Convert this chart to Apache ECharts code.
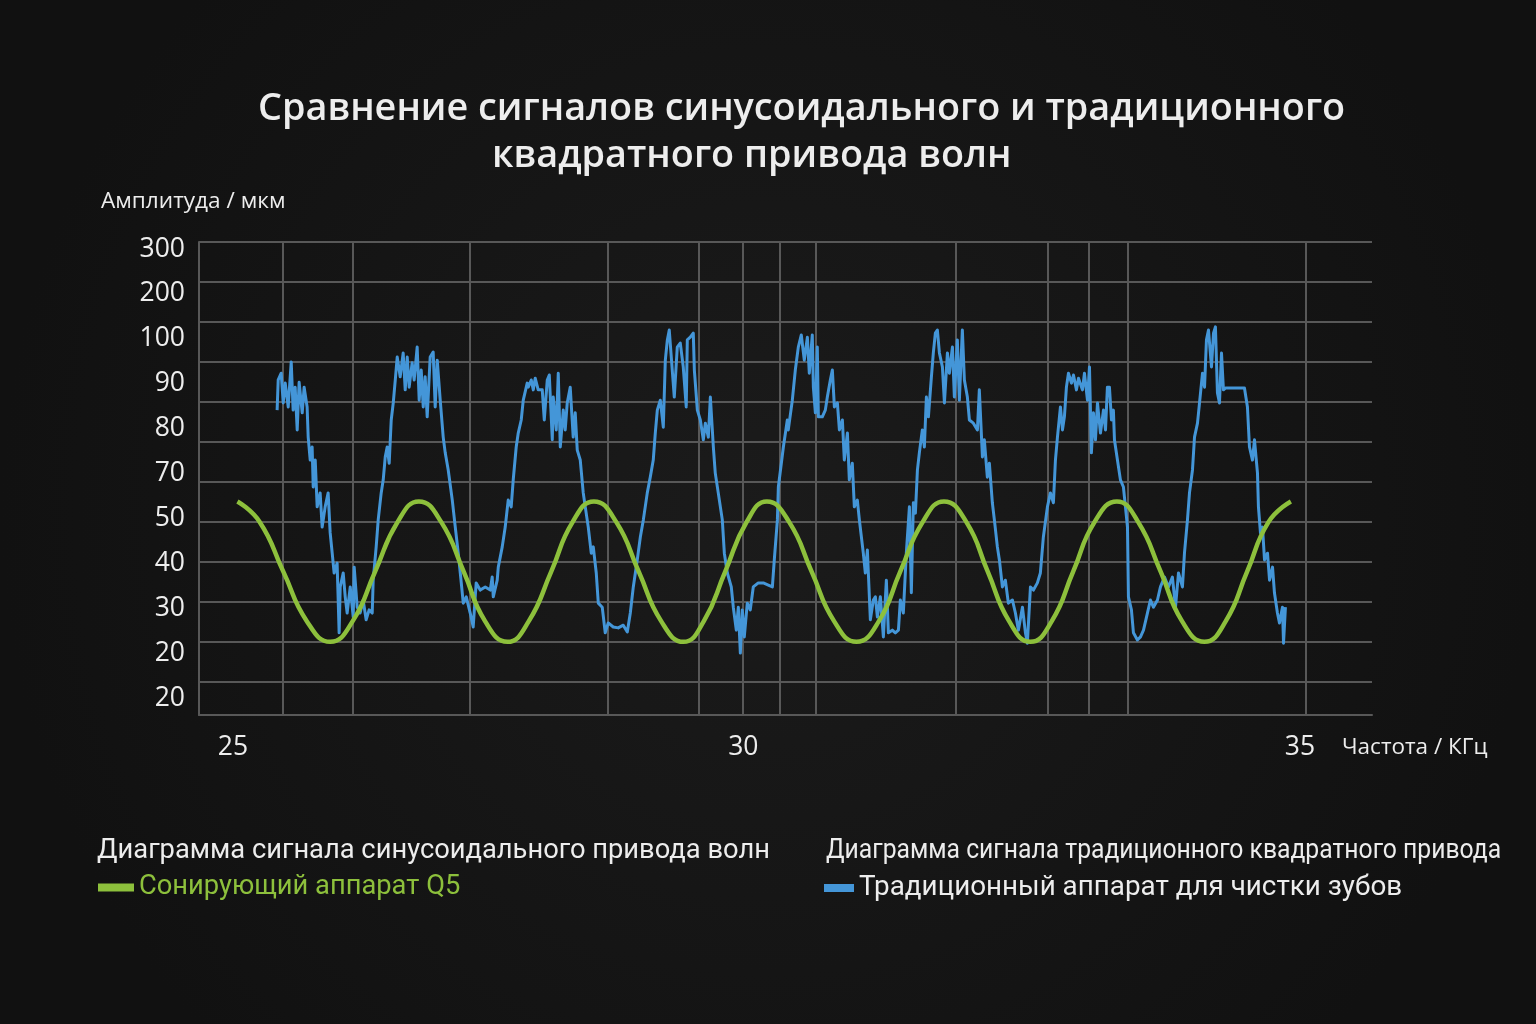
<!DOCTYPE html>
<html>
<head>
<meta charset="utf-8">
<title>Сравнение сигналов</title>
<script src="https://cdn.jsdelivr.net/npm/echarts@6/dist/echarts.min.js"></script>
<style>
  html, body { margin: 0; padding: 0; background: #151515; }
  #chart { width: 1536px; height: 1024px; }
</style>
</head>
<body>
<div id="chart"></div>
<script>
// printed tick labels, read top to bottom (the reference prints them unevenly)
const yTickLabels = ['300', '200', '100', '90', '80', '70', '50', '40', '30', '20', '20'];
const xTickLabels = ['25', '30', '35'];
const xTickSteps = [0, 11, 23];   // printed ticks sit 11 and 12 steps apart

// vertical grid lines, kHz
const gridFreqs = [25.46, 26.12, 27.22, 28.51, 29.36, 29.77, 30.12, 30.46, 31.77, 32.63, 33.02, 33.38, 35.05];

const sineName = 'Сонирующий аппарат Q5';
const squareName = 'Традиционный аппарат для чистки зубов';

// [kHz, µm]
const sineWave = [
  [25.04, 53.9], [25.25, 49.3], [25.47, 38.3], [25.69, 27.3], [25.91, 22.7],
  [26.12, 27.3], [26.33, 38.3], [26.54, 49.3], [26.74, 53.9],
  [26.95, 49.3], [27.16, 38.3], [27.36, 27.3], [27.57, 22.7],
  [27.77, 27.3], [27.98, 38.3], [28.18, 49.3], [28.38, 53.9],
  [28.59, 49.3], [28.80, 38.3], [29.01, 27.3], [29.22, 22.7],
  [29.41, 27.3], [29.61, 38.3], [29.81, 49.3], [30.00, 53.9],
  [30.21, 49.3], [30.42, 38.3], [30.63, 27.3], [30.84, 22.7],
  [31.05, 27.3], [31.25, 38.3], [31.46, 49.3], [31.66, 53.9],
  [31.87, 49.3], [32.07, 38.3], [32.27, 27.3], [32.47, 22.7],
  [32.67, 27.3], [32.87, 38.3], [33.07, 49.3], [33.28, 53.9],
  [33.48, 49.3], [33.69, 38.3], [33.89, 27.3], [34.10, 22.7],
  [34.30, 27.3], [34.50, 38.3], [34.70, 49.3], [34.91, 53.9]
];

// [kHz, µm]
const squareWave = [
  [25.412, 74.2], [25.422, 80.9], [25.450, 82.4], [25.469, 75.8], [25.488, 80.2],
  [25.516, 74.9], [25.544, 84.9], [25.562, 74.2], [25.581, 79.3], [25.600, 69.8],
  [25.618, 80.4], [25.647, 73.6], [25.665, 79.3], [25.693, 74.9], [25.703, 68.2],
  [25.722, 63.1], [25.740, 66.0], [25.750, 57.1], [25.769, 63.1], [25.787, 52.7],
  [25.815, 55.8], [25.834, 48.2], [25.862, 52.7], [25.890, 55.8], [25.909, 46.9],
  [25.928, 42.4], [25.946, 38.0], [25.974, 40.2], [25.993, 24.7], [26.003, 34.9],
  [26.031, 38.0], [26.050, 32.7], [26.068, 29.1], [26.097, 34.9], [26.125, 28.2],
  [26.134, 39.3], [26.162, 30.4], [26.190, 29.1], [26.218, 32.0], [26.246, 27.6],
  [26.274, 29.8], [26.303, 29.1], [26.312, 36.4], [26.340, 43.8], [26.359, 49.8],
  [26.387, 55.8], [26.406, 58.7], [26.425, 63.8], [26.443, 66.0], [26.462, 62.4],
  [26.481, 72.0], [26.500, 75.8], [26.519, 80.9], [26.537, 86.0], [26.565, 81.6],
  [26.593, 86.9], [26.612, 78.7], [26.631, 86.0], [26.649, 79.3], [26.677, 84.7],
  [26.696, 80.9], [26.724, 88.2], [26.743, 76.4], [26.762, 83.1], [26.781, 74.9],
  [26.799, 81.6], [26.818, 72.7], [26.846, 86.0], [26.874, 87.1], [26.893, 74.9],
  [26.912, 85.3], [26.940, 76.4], [26.968, 68.2], [26.987, 64.7], [27.015, 60.9],
  [27.053, 54.2], [27.081, 48.2], [27.109, 42.4], [27.128, 38.0], [27.156, 31.3],
  [27.184, 32.7], [27.221, 29.1], [27.249, 26.0], [27.277, 35.8], [27.315, 34.2],
  [27.362, 34.9], [27.409, 34.2], [27.427, 37.1], [27.437, 32.7], [27.474, 36.4],
  [27.484, 39.3], [27.521, 43.8], [27.549, 48.2], [27.577, 54.2], [27.605, 52.7],
  [27.624, 58.7], [27.652, 66.0], [27.671, 69.1], [27.699, 72.0], [27.718, 76.4],
  [27.755, 80.2], [27.765, 79.3], [27.793, 80.9], [27.812, 78.7], [27.830, 81.3],
  [27.858, 78.7], [27.896, 78.7], [27.915, 72.0], [27.943, 80.9], [27.962, 82.0],
  [27.990, 67.6], [27.999, 77.1], [28.027, 69.8], [28.046, 82.4], [28.065, 66.0],
  [28.093, 74.2], [28.111, 69.8], [28.130, 75.8], [28.158, 79.3], [28.186, 68.2],
  [28.205, 73.6], [28.224, 65.3], [28.252, 63.1], [28.280, 55.8], [28.299, 52.7],
  [28.327, 48.2], [28.355, 42.4], [28.374, 43.8], [28.402, 38.0], [28.421, 31.3],
  [28.458, 30.4], [28.486, 24.7], [28.514, 26.9], [28.561, 26.0], [28.608, 25.8],
  [28.655, 26.4], [28.693, 24.9], [28.721, 29.1], [28.749, 34.9], [28.786, 40.9],
  [28.815, 46.0], [28.843, 49.8], [28.880, 55.8], [28.908, 59.3], [28.936, 63.1],
  [28.955, 69.1], [28.974, 74.2], [29.002, 76.4], [29.030, 70.4], [29.049, 85.3],
  [29.068, 89.8], [29.086, 92.0], [29.114, 83.1], [29.133, 77.1], [29.161, 88.2],
  [29.189, 89.1], [29.217, 83.8], [29.245, 74.9], [29.255, 89.8], [29.283, 90.4],
  [29.311, 91.3], [29.321, 83.1], [29.349, 74.2], [29.377, 72.0], [29.405, 67.6],
  [29.424, 71.3], [29.452, 68.2], [29.471, 77.1], [29.499, 66.0], [29.517, 60.2],
  [29.545, 55.8], [29.583, 49.8], [29.602, 42.4], [29.630, 38.0], [29.667, 34.9],
  [29.686, 30.4], [29.714, 25.3], [29.733, 30.4], [29.752, 20.2], [29.770, 29.8],
  [29.789, 23.8], [29.817, 31.3], [29.845, 29.8], [29.873, 34.9], [29.920, 35.8],
  [29.967, 35.8], [30.014, 35.3], [30.052, 34.9], [30.070, 40.9], [30.099, 49.8],
  [30.108, 57.1], [30.136, 62.4], [30.155, 66.0], [30.192, 72.0], [30.201, 69.8],
  [30.239, 76.4], [30.267, 83.1], [30.295, 88.2], [30.323, 90.9], [30.351, 85.3],
  [30.380, 90.4], [30.398, 82.4], [30.426, 90.9], [30.436, 79.3], [30.455, 73.6],
  [30.473, 88.2], [30.483, 72.7], [30.520, 72.7], [30.548, 74.2], [30.567, 77.1],
  [30.595, 80.9], [30.614, 83.1], [30.633, 74.9], [30.661, 75.8], [30.680, 69.8],
  [30.708, 72.0], [30.726, 63.1], [30.755, 69.1], [30.773, 58.7], [30.801, 62.4],
  [30.820, 52.7], [30.848, 54.2], [30.867, 49.8], [30.904, 42.4], [30.923, 38.0],
  [30.942, 43.1], [30.970, 27.6], [30.998, 32.0], [31.017, 32.7], [31.036, 28.2],
  [31.064, 32.7], [31.092, 23.8], [31.120, 36.4], [31.139, 24.7], [31.176, 25.3],
  [31.204, 24.7], [31.233, 25.3], [31.251, 32.0], [31.279, 29.1], [31.307, 42.4],
  [31.336, 52.7], [31.354, 33.6], [31.373, 53.6], [31.392, 51.3], [31.411, 60.9],
  [31.429, 64.7], [31.457, 69.8], [31.476, 66.0], [31.495, 77.1], [31.514, 72.7],
  [31.542, 81.6], [31.560, 86.9], [31.579, 91.3], [31.598, 92.0], [31.617, 86.9],
  [31.645, 83.8], [31.664, 75.8], [31.692, 86.9], [31.710, 82.4], [31.739, 88.2],
  [31.757, 77.1], [31.785, 89.8], [31.804, 76.4], [31.832, 92.0], [31.851, 80.9],
  [31.879, 77.1], [31.898, 72.0], [31.935, 71.3], [31.973, 69.8], [31.991, 78.7],
  [32.020, 63.8], [32.038, 67.6], [32.066, 59.3], [32.085, 62.4], [32.113, 53.6],
  [32.132, 49.8], [32.160, 43.8], [32.179, 40.9], [32.207, 34.9], [32.235, 36.4],
  [32.263, 31.3], [32.301, 32.0], [32.329, 29.1], [32.357, 25.3], [32.395, 30.4],
  [32.423, 24.7], [32.441, 22.4], [32.470, 34.9], [32.498, 34.2], [32.535, 35.8],
  [32.563, 38.0], [32.591, 46.0], [32.629, 52.7], [32.657, 55.8], [32.685, 53.6],
  [32.704, 63.1], [32.723, 68.2], [32.751, 74.9], [32.770, 69.8], [32.788, 72.7],
  [32.807, 79.3], [32.826, 82.4], [32.854, 80.2], [32.873, 82.0], [32.901, 78.7],
  [32.920, 81.3], [32.957, 78.7], [32.976, 82.4], [33.004, 76.4], [33.023, 83.8],
  [33.041, 64.7], [33.060, 73.6], [33.079, 67.6], [33.098, 75.8], [33.126, 69.1],
  [33.154, 74.2], [33.173, 69.8], [33.191, 79.3], [33.210, 79.3], [33.229, 72.0],
  [33.247, 74.2], [33.257, 67.6], [33.285, 63.1], [33.313, 58.7], [33.341, 57.1],
  [33.360, 52.7], [33.379, 48.2], [33.388, 32.7], [33.416, 29.8], [33.435, 24.7],
  [33.472, 23.1], [33.501, 23.8], [33.529, 25.3], [33.566, 29.1], [33.594, 32.0],
  [33.622, 30.4], [33.660, 32.0], [33.688, 34.9], [33.726, 37.1], [33.763, 34.9],
  [33.800, 37.1], [33.829, 30.4], [33.857, 38.0], [33.894, 34.9], [33.913, 42.4],
  [33.941, 49.8], [33.960, 55.8], [33.988, 60.9], [34.007, 68.2], [34.035, 71.3],
  [34.054, 75.8], [34.082, 82.4], [34.101, 79.3], [34.119, 89.8], [34.138, 92.0],
  [34.166, 83.8], [34.185, 91.3], [34.203, 92.7], [34.222, 78.0], [34.241, 75.8],
  [34.260, 86.9], [34.278, 78.7], [34.297, 79.1], [34.363, 79.1], [34.419, 79.1],
  [34.475, 79.1], [34.503, 74.9], [34.522, 66.0], [34.550, 63.1], [34.569, 67.6],
  [34.597, 60.2], [34.606, 52.7], [34.625, 46.9], [34.644, 48.2], [34.663, 40.9],
  [34.691, 42.4], [34.710, 36.4], [34.738, 39.3], [34.756, 33.6], [34.784, 29.1],
  [34.803, 26.9], [34.831, 30.4], [34.841, 22.4], [34.859, 30.4]
];

const GRID_LINE = '#585858';
const TEXT = '#ededed';
const GREEN = '#8dc03c';
const BLUE = '#4496d8';
const FONT = "'Open Sans', 'Noto Sans', sans-serif";

const chart = echarts.init(document.getElementById('chart'));

chart.setOption({
  animation: false,
  backgroundColor: new echarts.graphic.RadialGradient(0.5, 0.5, 0.75, [
    { offset: 0, color: '#1b1b1b' },
    { offset: 1, color: '#111111' }
  ]),
  textStyle: { fontFamily: FONT },
  title: [
    {
      text: 'Сравнение сигналов синусоидального и традиционного',
      left: 258, top: 86, padding: 0,
      textStyle: { color: TEXT, fontSize: 37.8, fontWeight: 600, fontFamily: FONT, lineHeight: 46 }
    },
    {
      text: 'квадратного привода волн',
      left: 492, top: 133, padding: 0,
      textStyle: { color: TEXT, fontSize: 37.8, fontWeight: 600, fontFamily: FONT, lineHeight: 46 }
    },
    {
      text: 'Амплитуда / мкм',
      left: 101, top: 188, padding: 0,
      textStyle: { color: TEXT, fontSize: 22.6, fontWeight: 'normal', fontFamily: FONT, lineHeight: 27 }
    },
    {
      text: 'Частота / КГц',
      left: 1342, top: 734, padding: 0,
      textStyle: { color: TEXT, fontSize: 22.5, fontWeight: 'normal', fontFamily: FONT, lineHeight: 27 }
    },
    {
      text: 'Диаграмма сигнала синусоидального привода волн',
      left: 97, top: 835, padding: 0,
      textStyle: { color: TEXT, fontSize: 27.3, fontWeight: 'normal', fontFamily: 'Roboto', lineHeight: 32 }
    }
  ],
  graphic: [
    {
      // the second header is set narrower in the reference
      type: 'text',
      x: 826, y: 835,
      scaleX: 0.905,
      silent: true,
      style: {
        text: 'Диаграмма сигнала традиционного квадратного привода',
        fill: TEXT,
        font: "27.3px 'Roboto'",
        lineHeight: 32,
        verticalAlign: 'top'
      }
    }
  ],
  legend: [
    {
      data: [{ name: sineName, textStyle: { color: GREEN } }],
      left: 98, top: 874, padding: 0,
      icon: 'rect', itemWidth: 36, itemHeight: 8,
      selectedMode: false,
      textStyle: { fontSize: 27.3, fontFamily: 'Roboto', color: GREEN }
    },
    {
      data: [{ name: squareName, textStyle: { color: TEXT } }],
      left: 824, top: 874, padding: 0,
      icon: 'rect', itemWidth: 30, itemHeight: 8,
      selectedMode: false,
      textStyle: { fontSize: 27.8, fontFamily: 'Roboto', color: TEXT }
    }
  ],
  grid: [
    // plot area
    { left: 199, right: 164, top: 242, bottom: 309 },
    // printed tick labels
    { left: 233, right: 236, top: 249, bottom: 326 }
  ],
  xAxis: [
    {
      gridIndex: 0, type: 'value', min: 24.68, max: 35.67,
      axisLine: { show: true, onZero: false, lineStyle: { color: GRID_LINE, width: 2 } },
      axisTick: { show: false }, axisLabel: { show: false }, splitLine: { show: false }
    },
    {
      gridIndex: 1, type: 'value', min: 0, max: 23, interval: 1,
      axisLine: { show: false }, axisTick: { show: false }, splitLine: { show: false },
      axisLabel: {
        margin: 36, color: TEXT, fontSize: 26.5, fontFamily: FONT,
        formatter: (v) => {
          const i = xTickSteps.indexOf(v);
          return i < 0 ? '' : xTickLabels[i];
        }
      }
    }
  ],
  yAxis: [
    {
      gridIndex: 0, type: 'value', min: 6.44, max: 111.56,
      axisLine: { show: true, onZero: false, lineStyle: { color: GRID_LINE, width: 2 } },
      axisTick: { show: false }, axisLabel: { show: false }, splitLine: { show: false }
    },
    {
      // horizontal grid rows, counted from the top
      gridIndex: 0, type: 'value', inverse: true, min: 0, max: 11.825, interval: 1,
      axisLine: { show: false }, axisTick: { show: false }, axisLabel: { show: false },
      splitLine: { show: true, lineStyle: { color: GRID_LINE, width: 2 } }
    },
    {
      gridIndex: 1, type: 'value', inverse: true, min: 0, max: yTickLabels.length - 1, interval: 1,
      axisLine: { show: false }, axisTick: { show: false }, splitLine: { show: false },
      axisLabel: {
        margin: 48, color: TEXT, fontSize: 26.5, fontFamily: FONT,
        formatter: (v) => yTickLabels[v] || ''
      }
    }
  ],
  series: [
    {
      name: squareName,
      type: 'line',
      xAxisIndex: 0, yAxisIndex: 0,
      data: squareWave,
      showSymbol: false,
      color: BLUE,
      lineStyle: { color: BLUE, width: 3, join: 'round' },
      z: 3,
      markLine: {
        silent: true,
        z: 1,
        symbol: ['none', 'none'],
        label: { show: false },
        lineStyle: { color: GRID_LINE, width: 2, type: 'solid' },
        data: gridFreqs.map((f) => ({ xAxis: f }))
      }
    },
    {
      name: sineName,
      type: 'line',
      xAxisIndex: 0, yAxisIndex: 0,
      data: sineWave,
      smooth: true,
      showSymbol: false,
      color: GREEN,
      lineStyle: { color: GREEN, width: 4.5 },
      z: 4
    }
  ]
});

window.addEventListener('resize', () => chart.resize());
</script>
</body>
</html>
